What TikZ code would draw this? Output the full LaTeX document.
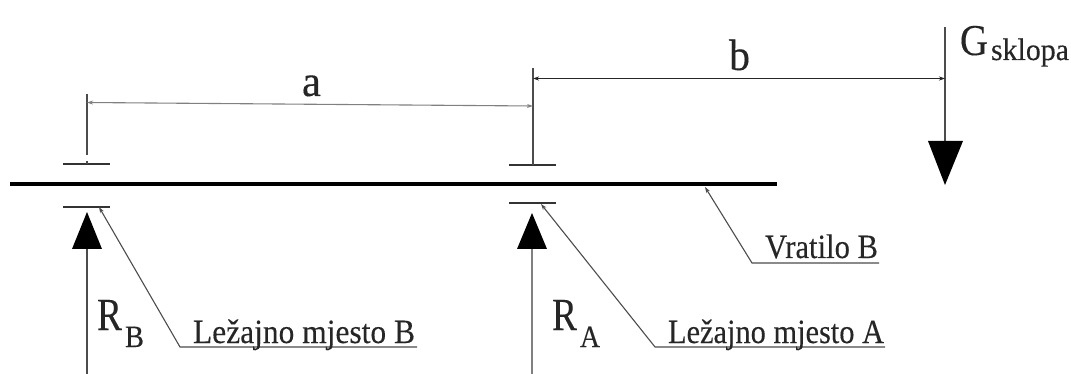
\documentclass[tikz,border=0pt]{standalone}
\usepackage{fontspec}
\setmainfont{Liberation Serif}[FakeBold=0.25]
\usetikzlibrary{arrows.meta}
\newcommand{\fit}[3]{\resizebox{#1pt}{\height}{\fontsize{#2pt}{#2pt}\selectfont #3}}
\tikzset{
  every node/.style={inner sep=0pt,outer sep=0pt,text=black!85},
  thin line/.style={draw=black!70,line width=1.1pt},
  grey line/.style={draw=black!50,line width=1.1pt},
  bearing/.style={draw=black!80,line width=1.2pt},
  shaft/.style={draw=black,line width=4.4pt},
  leader/.style={thin line,{Stealth[length=6pt,width=4pt]}-},
  force head/.style={fill=black,draw=none},
  lbl/.style={anchor=base west},
}
\begin{document}
\begin{tikzpicture}[x=1pt,y=-1pt]
\useasboundingbox (0,0) rectangle (1071,374);
% reference points
\coordinate (S1) at (10,184);   \coordinate (S2) at (777,184);
\coordinate (BT1) at (63,164);  \coordinate (BT2) at (110,164);
\coordinate (BB1) at (63,207);  \coordinate (BB2) at (110,207);
\coordinate (AT1) at (509,165); \coordinate (AT2) at (556,165);
\coordinate (AB1) at (509,203); \coordinate (AB2) at (556,203);
\coordinate (EB1) at (87,94);   \coordinate (EB2) at (87,155);
\coordinate (EB3) at (87,161);  \coordinate (EB4) at (87,164);
\coordinate (EA1) at (533,68);  \coordinate (EA2) at (533,165);
\coordinate (DA1) at (87,102.5);\coordinate (DA2) at (533,106);
\coordinate (DB1) at (533,78.5);\coordinate (DB2) at (945,78.5);
\coordinate (G1) at (945,27);   \coordinate (G2) at (945,141);
\coordinate (RB1) at (87,374);  \coordinate (RB2) at (87,249);
\coordinate (RA1) at (532,374); \coordinate (RA2) at (532,249);
\coordinate (L1a) at (99,207);  \coordinate (L1b) at (180,347); \coordinate (L1c) at (417,347);
\coordinate (L2a) at (541,204); \coordinate (L2b) at (655,347); \coordinate (L2c) at (885,347);
\coordinate (L3a) at (705,187); \coordinate (L3b) at (752,263); \coordinate (L3c) at (879,263);
% shaft and bearings
\draw[shaft] (S1) -- (S2);
\draw[bearing] (BT1) -- (BT2);
\draw[bearing] (BB1) -- (BB2);
\draw[bearing] (AT1) -- (AT2);
\draw[bearing] (AB1) -- (AB2);
% extension lines
\draw[thin line] (EB1) -- (EB2);
\draw[thin line] (EB3) -- (EB4);
\draw[thin line] (EA1) -- (EA2);
\draw[thin line] (G1) -- (G2);
% dimensions
\draw[grey line,{Stealth[length=6pt,width=4pt]}-{Stealth[length=6pt,width=4pt]}] (DA1) -- (DA2);
\draw[draw=black!85,line width=1.1pt,{Stealth[length=6pt,width=4pt]}-{Stealth[length=6pt,width=4pt]}] (DB1) -- (DB2);
% forces
\draw[thin line] (RB1) -- (RB2);
\draw[grey line] (RA1) -- (RA2);
\fill[force head] (87,212) -- (102,249) -- (72,249) -- cycle;
\fill[force head] (532,213) -- (547,249) -- (517,249) -- cycle;
\fill[force head] (945,185) -- (928,141) -- (963,141) -- cycle;
% leaders
\draw[leader] (L1a) -- (L1b) -- (L1c);
\draw[leader] (L2a) -- (L2b) -- (L2c);
\draw[leader] (L3a) -- (L3b) -- (L3c);
% labels
\node[lbl] (ta) at (302,96) {\fit{19}{44}{a}};
\node[lbl] (tb) at (729,70) {\fit{21}{44}{b}};
\node[lbl] (tG) at (960,55) {\fit{28}{44}{G}};
\node[lbl] (tGs) at (991,60) {\fit{78}{31}{sklopa}};
\node[lbl] (tRB) at (97,330) {\fit{25}{46}{R}};
\node[lbl] (tRBs) at (125,347) {\fit{19}{31}{B}};
\node[lbl] (tRA) at (552,330) {\fit{25}{46}{R}};
\node[lbl] (tRAs) at (580,347) {\fit{20}{31}{A}};
\node[lbl] (tL1) at (193,343) {\fit{222}{34}{Ležajno mjesto B}};
\node[lbl] (tL2) at (668,343) {\fit{216}{34}{Ležajno mjesto A}};
\node[lbl] (tL3) at (765,258) {\fit{113}{34}{Vratilo B}};
\end{tikzpicture}
\end{document}
